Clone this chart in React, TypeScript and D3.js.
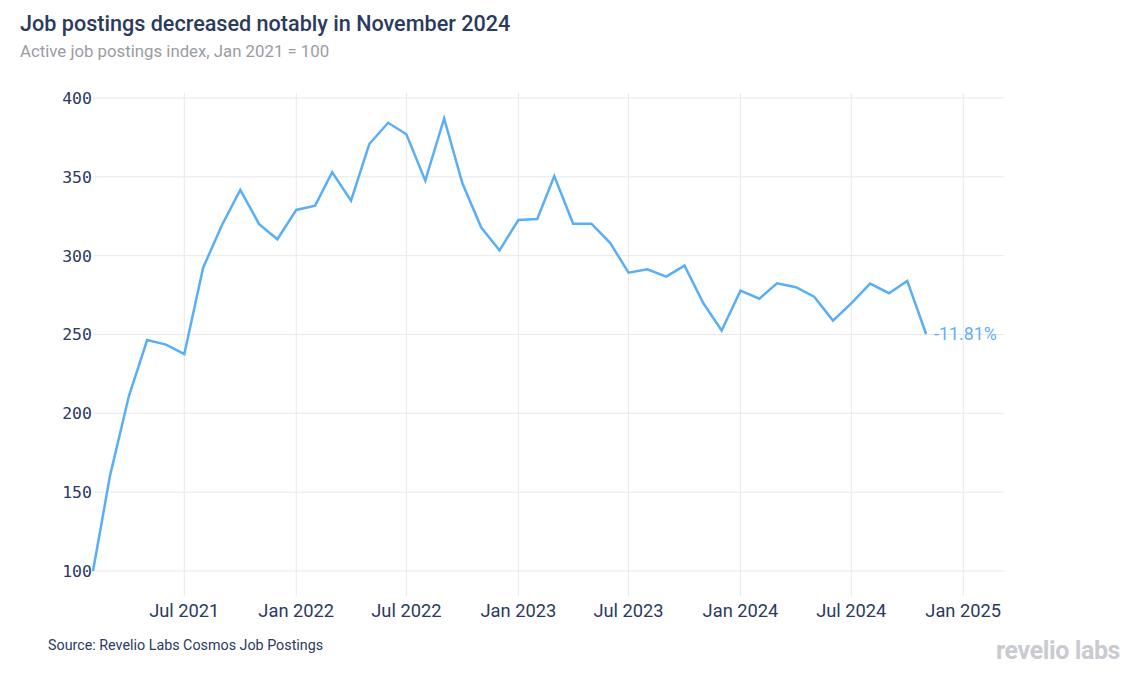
import React from "react";
import * as d3 from "d3";

const months: string[] = [
  "2021-02", "2021-03", "2021-04", "2021-05", "2021-06", "2021-07", "2021-08", "2021-09", "2021-10", "2021-11", "2021-12",
  "2022-01", "2022-02", "2022-03", "2022-04", "2022-05", "2022-06", "2022-07", "2022-08", "2022-09", "2022-10", "2022-11", "2022-12",
  "2023-01", "2023-02", "2023-03", "2023-04", "2023-05", "2023-06", "2023-07", "2023-08", "2023-09", "2023-10", "2023-11", "2023-12",
  "2024-01", "2024-02", "2024-03", "2024-04", "2024-05", "2024-06", "2024-07", "2024-08", "2024-09", "2024-10", "2024-11",
];

const indexValues: number[] = [
  100, 160.5, 211, 246.5, 243.6, 237.5, 292.4, 319.5, 341.7, 320, 310.4,
  329, 331.7, 352.9, 334.9, 370.8, 384.3, 377, 347.6, 387.1, 345.9, 317.8, 303.4,
  322.6, 323.3, 350.5, 320.3, 320.3, 308, 289.2, 291.4, 286.7, 293.7, 269.8, 252.5,
  277.8, 272.7, 282.5, 280, 274, 258.8, 269.8, 282.3, 276.2, 284, 250.3,
];

const yTicks: number[] = [100, 150, 200, 250, 300, 350, 400];
const xTickDates: string[] = ["2021-07", "2022-01", "2022-07", "2023-01", "2023-07", "2024-01", "2024-07", "2025-01"];
const endLabel = "-11.81%";

const W = 1129;
const H = 681;
const plotLeft = 93;
const plotRight = 1004;
const plotTop = 93;
const tickBottom = 596;

const parse = d3.timeParse("%Y-%m");

export default function App() {
  const data = months.map((m, i) => ({ date: parse(m) as Date, value: indexValues[i] }));

  const x = d3
    .scaleTime()
    .domain([parse("2021-02") as Date, new Date(2025, 2, 9)])
    .range([plotLeft, plotRight]);
  const y = d3.scaleLinear().domain([100, 400]).range([571, 98]);

  const line = d3
    .line<{ date: Date; value: number }>()
    .x((d) => x(d.date))
    .y((d) => y(d.value));

  const fmt = d3.timeFormat("%b %Y");
  const last = data[data.length - 1];
  const grid = "#e8e8ee";
  const navy = "#2b3a5e";

  return (
    <svg
      width={W}
      height={H}
      style={{ position: "absolute", left: 0, top: 0, background: "#fff" }}
      fontFamily="Roboto, 'Noto Sans', sans-serif"
    >
      <text x={20} y={30.5} fontSize={21.6} fontWeight={500} fill={navy}>
        Job postings decreased notably in November 2024
      </text>
      <text x={20} y={56.5} fontSize={16.8} fill="#9a9ca3">
        Active job postings index, Jan 2021 = 100
      </text>

      {yTicks.map((t) => (
        <g key={"y" + t}>
          <line x1={plotLeft} x2={plotRight} y1={y(t)} y2={y(t)} stroke={grid} strokeWidth={1} />
          <text
            x={92}
            y={y(t)}
            dy="0.36em"
            textAnchor="end"
            fontSize={16.5}
            fontFamily="'DejaVu Sans Mono', monospace"
            fill={navy}
          >
            {t}
          </text>
        </g>
      ))}

      {xTickDates.map((s) => {
        const d = parse(s) as Date;
        return (
          <g key={"x" + s}>
            <line x1={x(d)} x2={x(d)} y1={plotTop} y2={tickBottom} stroke={grid} strokeWidth={1} />
            <text x={x(d)} y={617} textAnchor="middle" fontSize={18.3} fill={navy}>
              {fmt(d)}
            </text>
          </g>
        );
      })}

      <path d={line(data) || ""} fill="none" stroke="#5aaef5" strokeWidth={2.5} strokeLinejoin="miter" />

      <text x={x(last.date) + 8} y={y(last.value)} dy="0.36em" fontSize={17.8} fill="#63b1f5">
        {endLabel}
      </text>

      <text x={48} y={650} fontSize={14.3} fill={navy}>
        Source: Revelio Labs Cosmos Job Postings
      </text>
      <text x={1120} y={659} textAnchor="end" fontSize={25} fontWeight={700} fill="#c9cbd0" letterSpacing={-0.4}>
        revelio labs
      </text>
    </svg>
  );
}
